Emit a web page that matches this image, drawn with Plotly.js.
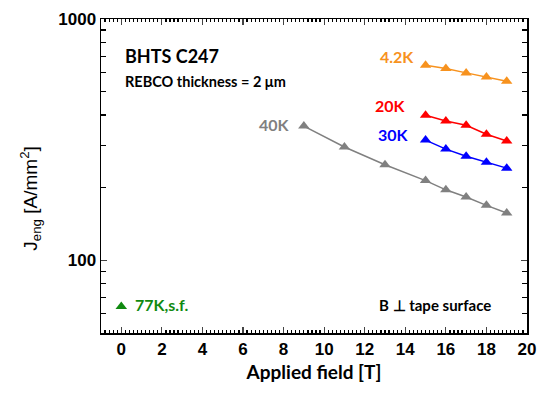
<!DOCTYPE html>
<html><head><meta charset="utf-8">
<script src="https://cdn.plot.ly/plotly-3.0.1.min.js"></script>
<style>body{margin:0;background:#fff}#c{width:548px;height:394px}</style>
</head><body><div id="c"></div>
<script>
const fieldHigh = [15, 16, 17, 18, 19];
const j42K = [643, 624, 598, 575, 552];
const j20K = [399, 378, 363, 333, 312];
const j30K = [315, 289, 270, 255, 241];
const field40K = [9, 11, 13, 15, 16, 17, 18, 19];
const j40K = [360, 295, 249, 214, 196, 183, 169, 157];
const field77K = [0];
const j77K = [64.4];
const yMinorTicks = [60, 70, 80, 90, 200, 300, 400, 500, 600, 700, 800, 900];

const cal = "Lato, 'Open Sans', sans-serif";
const ari = "'Liberation Sans', Arial, sans-serif";

function tr(x, y, color){
  return {x:x, y:y, type:'scatter', mode:'lines+markers',
    line:{color:color, width:1.5},
    marker:{symbol:'triangle-up', size:10, color:color},
    showlegend:false, cliponaxis:false};
}
const data = [
  tr(field40K, j40K, '#808080'),
  tr(fieldHigh, j30K, '#0000FF'),
  tr(fieldHigh, j20K, '#FF0000'),
  tr(fieldHigh, j42K, '#F7921E'),
  {x:field77K, y:j77K, type:'scatter', mode:'markers',
   marker:{symbol:'triangle-up', size:10, color:'#108A10'}, showlegend:false}
];
function ann(text, x, y, anchor, color, size){
  return {text:text, x:x, y:y, xref:'x', yref:'y', xanchor:anchor, yanchor:'middle',
    showarrow:false, font:{family:cal, size:size, color:color, weight:700}};
}
const layout = {
  width:548, height:394,
  margin:{l:101, r:21, t:19, b:61},
  paper_bgcolor:'#fff', plot_bgcolor:'#fff',
  xaxis:{range:[-1,20], dtick:2, tick0:0, ticks:'inside', ticklen:6, tickwidth:1.2,
    showline:true, linecolor:'#000', linewidth:1.5, mirror:'ticks', showgrid:false, zeroline:false,
    tickfont:{family:ari, size:17, color:'#000', weight:700},
    minor:{dtick:0.2, tick0:0, ticks:'inside', ticklen:3, tickcolor:'#000', showgrid:false},
    title:{text:'Applied field [T]', font:{family:cal, size:19, color:'#000', weight:700}, standoff:8}},
  yaxis:{type:'log', range:[Math.log10(50), 3], tickvals:[100,1000], ticktext:['100','1000'],
    ticks:'inside', ticklen:6, tickwidth:1.2,
    showline:true, linecolor:'#000', linewidth:1.5, mirror:'ticks', showgrid:false, zeroline:false,
    tickfont:{family:ari, size:17, color:'#000', weight:700},
    minor:{tickvals:yMinorTicks, ticks:'inside', ticklen:5, tickcolor:'#000', showgrid:false}},
  annotations:[
    ann('BHTS C247', 0.1, 2.845, 'left', '#000', 18),
    ann('REBCO thickness = 2 μm', 0.1, 2.742, 'left', '#000', 14.5),
    ann('4.2K', 14.55, 2.845, 'right', '#F7921E', 16),
    ann('20K', 14.15, 2.643, 'right', '#FF0000', 16),
    ann('30K', 14.3, 2.523, 'right', '#0000FF', 16),
    ann('40K', 8.4, 2.564, 'right', '#808080', 16),
    ann('77K,s.f.', 0.6, 1.816, 'left', '#108A10', 16),
    ann('B ⊥ tape surface', 18.3, 1.816, 'right', '#000', 15),
    {text:'J<sub>eng</sub> [A/mm<sup>2</sup>]', xref:'paper', yref:'paper', x:-0.165, y:0.43,
     xanchor:'center', yanchor:'middle', textangle:-90, showarrow:false,
     font:{family:ari, size:19, color:'#000'}}
  ]
};
Plotly.newPlot('c', data, layout, {staticPlot:true, displayModeBar:false});
</script></body></html>
